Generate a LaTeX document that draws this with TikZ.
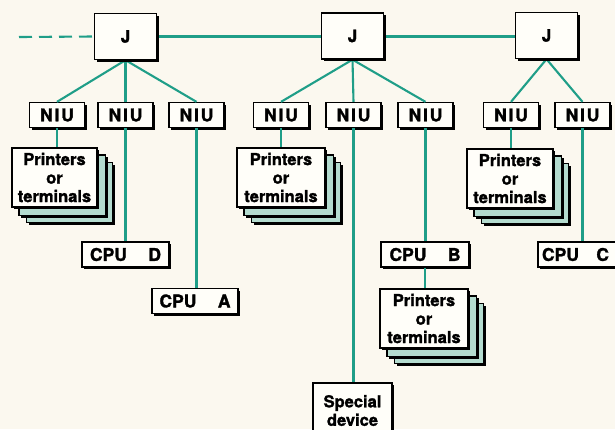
\documentclass[tikz,border=0pt]{standalone}
\usepackage{fontspec}
\setmainfont{TeX Gyre Heros}[BoldFeatures={FakeBold=1.6}]
\usetikzlibrary{shadows}
\definecolor{bgcol}{HTML}{FBF8EF}
\definecolor{boxcol}{HTML}{FFFEF9}
\definecolor{tealline}{HTML}{1F9E88}
\definecolor{layercol}{HTML}{B4DCCF}
\tikzset{
  shd/.style={drop shadow={shadow xshift=2.4pt,shadow yshift=-2.4pt,fill=black,opacity=1}},
  basebox/.style={draw=black,line width=1.3pt,fill=boxcol,shd,inner sep=0pt,
    font=\fontsize{16.5}{18.5}\selectfont\bfseries,align=center},
  jbox/.style={basebox,minimum width=62pt,minimum height=46pt,font=\fontsize{17}{19}\selectfont\bfseries},
  niubox/.style={basebox,minimum width=55pt,minimum height=25pt,
    font=\fontsize{17.5}{19}\selectfont\bfseries\addfontfeature{LetterSpace=10}},
  ptbox/.style={basebox,minimum width=86pt,minimum height=59pt},
  cpubox/.style={basebox,minimum width=87pt,minimum height=25pt,font=\fontsize{17.5}{19}\selectfont\bfseries},
  spbox/.style={basebox,minimum width=79pt,minimum height=55pt},
  layer/.style={draw=black,line width=1.3pt,fill=layercol,shd},
  link/.style={draw=tealline,line width=2.1pt},
}
\newcommand{\stackof}[1]{%
  \path[layer] ([shift={(15,15)}]#1.north west) rectangle ([shift={(15,15)}]#1.south east);
  \path[layer] ([shift={(7.5,7.5)}]#1.north west) rectangle ([shift={(7.5,7.5)}]#1.south east);
}
\begin{document}
\begin{tikzpicture}[x=1pt,y=-1pt]
\useasboundingbox[fill=bgcol] (0,0) rectangle (615,429);
\begin{scope}
\clip (0,0) rectangle (615,429);
% junction boxes
\node[jbox] (J1) at (125.5,36.5) {J};
\node[jbox] (J2) at (352.5,36) {J};
\node[jbox] (J3) at (546.5,35.5) {J};
% NIUs
\node[niubox] (N1) at (57,115) {NIU};
\node[niubox] (N2) at (125.5,115) {NIU};
\node[niubox] (N3) at (196.5,115) {NIU};
\node[niubox] (N4) at (281,115) {NIU};
\node[niubox] (N5) at (353.5,115) {NIU};
\node[niubox] (N6) at (425.5,115) {NIU};
\node[niubox] (N7) at (511,115) {NIU};
\node[niubox] (N8) at (582.5,115) {NIU};
\coordinate (dstart) at (19,37);
% top-level links
\draw[link,dash pattern=on 13pt off 7pt] (dstart) -- (J1.west);
\draw[link] (J1.east) -- (J2.west |- J1.east);
\draw[link] (J2.east |- J1.east) -- (J3.west |- J1.east);
\draw[link] (J1.south) -- (N1.north);
\draw[link] (J1.south) -- (N2.north);
\draw[link] (J1.south) -- (N3.north);
\draw[link] (J2.south) -- (N4.north);
\draw[link] (J2.south) -- (N5.north);
\draw[link] (J2.south) -- (N6.north);
\draw[link] (J3.south) -- (N7.north);
\draw[link] (J3.south) -- (N8.north);
% second-level boxes
\node[ptbox,minimum width=85pt] (P1) at (54.5,177.5) {Printers\\or\\terminals};
\node[ptbox,minimum width=88pt] (P2) at (281,177.5) {Printers\\or\\terminals};
\node[ptbox] (P3) at (510,178.5) {Printers\\or\\terminals};
\node[ptbox,minimum width=88pt] (P4) at (424,318.5) {Printers\\or\\terminals};
\node[cpubox] (CD) at (125.5,254.5) {\makebox[71pt]{CPU\hfill D}};
\node[cpubox,minimum width=86pt] (CA) at (195,301) {\makebox[71pt]{CPU\hfill A}};
\node[cpubox,minimum width=88pt] (CB) at (425,254.5) {\makebox[71pt]{CPU\hfill B}};
\node[cpubox] (CC) at (581.5,254.5) {\hspace*{-6pt}\makebox[67pt]{CPU\hfill C}\hspace*{6pt}};
\node[spbox] (SD) at (352.5,410.5) {Special\\device};
\draw[link] (N1.south) -- (N1.south |- P1.north);
\draw[link] (N2.south) -- (N2.south |- CD.north);
\draw[link] (N3.south) -- (N3.south |- CA.north);
\draw[link] (N4.south) -- (N4.south |- P2.north);
\draw[link] (N5.south) -- (N5.south |- SD.north);
\draw[link] (N6.south) -- (N6.south |- CB.north);
\draw[link] (CB.south) -- (CB.south |- P4.north);
\draw[link] (N7.south) -- (N7.south |- P3.north);
\draw[link] (N8.south) -- (N8.south |- CC.north);
% stacks behind printers
\stackof{P1}\stackof{P2}\stackof{P3}\stackof{P4}
% front sheets above the stacks
\node[ptbox,minimum width=85pt] at (P1) {Printers\\or\\terminals};
\node[ptbox,minimum width=88pt] at (P2) {Printers\\or\\terminals};
\node[ptbox] at (P3) {Printers\\or\\terminals};
\node[ptbox,minimum width=88pt] at (P4) {Printers\\or\\terminals};
% boxes above link ends
\node[jbox] at (J1) {J};
\node[jbox] at (J2) {J};
\node[jbox] at (J3) {J};
\end{scope}
\end{tikzpicture}
\end{document}
